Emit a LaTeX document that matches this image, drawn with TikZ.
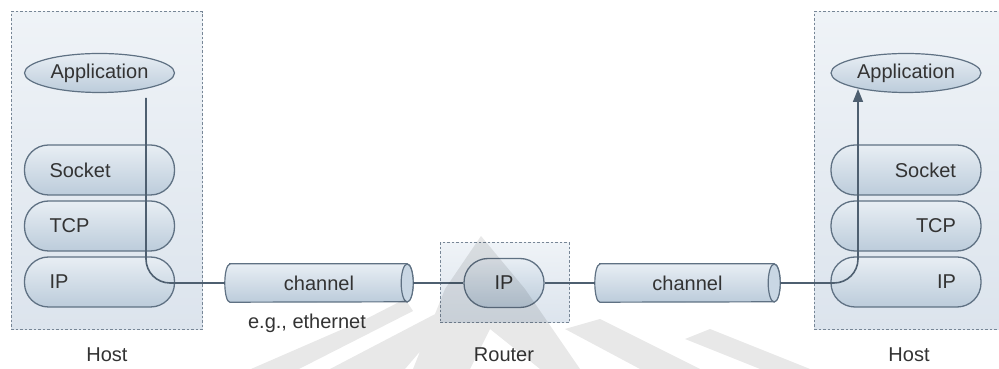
\documentclass[tikz,border=0pt]{standalone}
\usepackage{fontspec}
\setmainfont{Liberation Sans}
\usetikzlibrary{arrows.meta,shapes.geometric,calc}
\pgfdeclarelayer{back}
\pgfdeclarelayer{front}
\pgfsetlayers{back,main,front}

\definecolor{edge}{HTML}{5F7183}
\definecolor{wire}{HTML}{4E5F70}
\definecolor{ink}{HTML}{333333}
\definecolor{layertop}{HTML}{E8EEF4}
\definecolor{layerbot}{HTML}{BCCCDB}
\definecolor{hosttop}{HTML}{EFF3F7}
\definecolor{hostbot}{HTML}{DCE4ED}
\definecolor{facefill}{HTML}{C9D7E4}

\tikzset{
  lbl/.style={text=ink, font=\fontsize{20}{24}\selectfont},
  hostbox/.style={draw=edge!85, dash pattern=on 2.5pt off 2pt, line width=0.9pt,
    top color=hosttop, bottom color=hostbot},
  layerbox/.style={lbl, draw=edge, line width=1.3pt, rounded corners=24pt,
    top color=layertop, bottom color=layerbot, minimum height=50pt,
    inner xsep=25pt, inner ysep=0pt},
  leftlayer/.style={layerbox, text width=100pt, align=left},
  rightlayer/.style={layerbox, text width=100pt, align=right},
  appbox/.style={lbl, ellipse, draw=edge, line width=1.2pt, top color=layertop,
    bottom color=layerbot, minimum width=150pt, minimum height=39pt, inner sep=0pt},
  chan/.style={lbl, minimum height=38pt, inner sep=0pt},
  chanbody/.style={draw=edge, line width=1.2pt, top color=layertop, bottom color=layerbot},
  wireline/.style={draw=wire, line width=1.6pt},
}

% cylinder lying on its side, drawn round a named node
\newcommand{\pipebody}[1]{%
  \begin{pgfonlayer}{back}
    \path[chanbody]
      ($(#1.north west)+(5pt,0)$) -- ($(#1.north east)-(6pt,0)$)
      arc[start angle=90, end angle=-90, x radius=6pt, y radius=19pt]
      -- ($(#1.south west)+(5pt,0)$)
      arc[start angle=270, end angle=90, x radius=5pt, y radius=19pt] -- cycle;
    \path[draw=edge, line width=1.2pt, fill=facefill]
      ($(#1.east)-(6pt,0)$) ellipse[x radius=6pt, y radius=19pt];
  \end{pgfonlayer}}

\begin{document}
\begin{tikzpicture}[x=1pt, y=1pt]
  \useasboundingbox (0,0) rectangle (999,369);
  \clip (0,0) rectangle (999,369);

  % host and router frames
  \begin{pgfonlayer}{back}
    \node[hostbox, minimum width=191pt, minimum height=318pt, anchor=south west]
      (hostL) at (11,39) {};
    \node[hostbox, minimum width=200pt, minimum height=318pt, anchor=south west]
      (hostR) at (814,39) {};
    \node[hostbox, minimum width=129pt, minimum height=80pt, anchor=south west]
      (router) at (440,46) {};
  \end{pgfonlayer}

  % left protocol stack
  \node[appbox] (appL) at (99.5,296) {Application};
  \node[leftlayer] (sockL) at (99.5,199) {Socket};
  \node[leftlayer] (tcpL) at (99.5,143) {TCP};
  \node[leftlayer] (ipL) at (99.5,87) {IP};

  % right protocol stack
  \node[appbox] (appR) at (906,296) {Application};
  \node[rightlayer] (sockR) at (906,199) {Socket};
  \node[rightlayer] (tcpR) at (906,143) {TCP};
  \node[rightlayer] (ipR) at (906,87) {IP};

  % router
  \node[layerbox, minimum width=80pt, minimum height=49pt, inner xsep=0pt]
    (ipM) at (504,86) {IP};

  % links
  \node[chan, minimum width=188pt] (ch1) at (319,86) {channel};
  \pipebody{ch1}
  \node[chan, minimum width=185pt] (ch2) at (687.5,86) {channel};
  \pipebody{ch2}

  % labels
  \node[lbl, anchor=base] (ethL) at (307,40) {e.g., ethernet};
  \node[lbl, anchor=base] (hostLbl) at (107,7) {Host};
  \node[lbl, anchor=base] (routerLbl) at (504,7) {Router};
  \node[lbl, anchor=base] (hostRbl) at (909,7) {Host};

  % data path
  \coordinate (downL) at (146,271);
  \coordinate (upR) at (858,280);
  \path[wireline] (downL) -- (146,110) to[out=-90, in=180] (170,86) -- (ch1.west);
  \path[wireline] (ch1.east) -- (ipM.west);
  \path[wireline] (ipM.east) -- (ch2.west);
  \path[wireline, -{Triangle[length=13pt, width=10pt]}]
    (ch2.east) -- (834,86) to[out=0, in=-90] (858,110) -- (upR);

  % faint background emblem
  \begin{pgfonlayer}{front}
    \fill[black, opacity=0.09]
      (251,0) -- (299,0) -- (413,58) -- (405,70) -- (366,50) -- cycle
      (330,0) -- (405,0) -- (441,42) -- (441,58) -- cycle
      (481,133) -- (445,80) -- (413,0) -- (470,0) -- (490,40) -- (540,0)
        -- (580,0) -- (525,80) -- cycle
      (565,40) -- (640,0) -- (700,0) -- (600,50) -- cycle
      (685,30) -- (760,0) -- (810,0) -- (710,40) -- cycle;
  \end{pgfonlayer}
\end{tikzpicture}
\end{document}
